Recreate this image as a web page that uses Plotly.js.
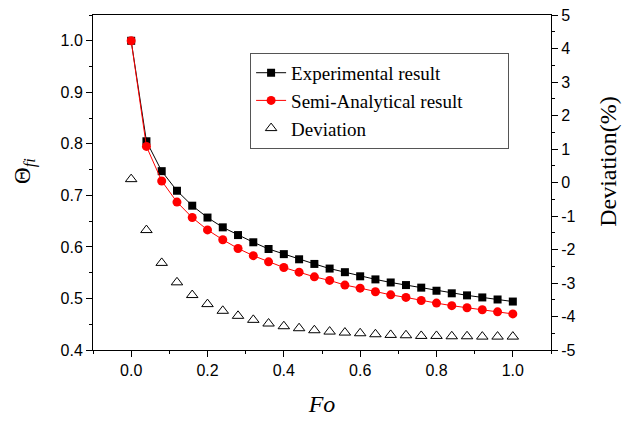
<!DOCTYPE html>
<html>
<head>
<meta charset="utf-8">
<script src="https://cdn.plot.ly/plotly-3.0.1.min.js"></script>
<style>html,body{margin:0;padding:0;background:#fff;}#chart{width:622px;height:426px;}</style>
</head>
<body>
<div id="chart"></div>
<script>
const fo = [0, 0.04, 0.08, 0.12, 0.16, 0.20, 0.24, 0.28, 0.32, 0.36, 0.40, 0.44, 0.48, 0.52, 0.56, 0.60, 0.64, 0.68, 0.72, 0.76, 0.80, 0.84, 0.88, 0.92, 0.96, 1.00];
const experimental = [1.0, 0.805, 0.747, 0.709, 0.680, 0.657, 0.638, 0.623, 0.609, 0.596, 0.586, 0.576, 0.567, 0.558, 0.551, 0.543, 0.537, 0.531, 0.526, 0.521, 0.515, 0.510, 0.506, 0.502, 0.498, 0.494];
const semiAnalytical = [1.0, 0.795, 0.728, 0.687, 0.657, 0.633, 0.614, 0.597, 0.583, 0.571, 0.560, 0.551, 0.542, 0.535, 0.526, 0.520, 0.513, 0.507, 0.502, 0.496, 0.491, 0.486, 0.482, 0.478, 0.474, 0.470];
const deviation = [0.1, -1.42, -2.40, -2.98, -3.36, -3.63, -3.83, -3.98, -4.10, -4.21, -4.29, -4.35, -4.41, -4.45, -4.48, -4.50, -4.53, -4.55, -4.56, -4.58, -4.58, -4.59, -4.59, -4.60, -4.60, -4.60];
const seriesNames = ["Experimental result", "Semi-Analytical result", "Deviation"];
const xTicks = [0, 0.2, 0.4, 0.6, 0.8, 1.0];
const xTickText = ["0.0", "0.2", "0.4", "0.6", "0.8", "1.0"];
const yTicks = [0.4, 0.5, 0.6, 0.7, 0.8, 0.9, 1.0];
const yTickText = ["0.4", "0.5", "0.6", "0.7", "0.8", "0.9", "1.0"];
const y2Ticks = [-5, -4, -3, -2, -1, 0, 1, 2, 3, 4, 5];
const y2TickText = ["-5", "-4", "-3", "-2", "-1", "0", "1", "2", "3", "4", "5"];

const traces = [
  {x: fo, y: experimental, name: seriesNames[0], type: "scatter", mode: "lines+markers",
   line: {color: "#000", width: 1}, marker: {symbol: "square", size: 8, color: "#000"}},
  {x: fo, y: semiAnalytical, name: seriesNames[1], type: "scatter", mode: "lines+markers",
   line: {color: "#ff0000", width: 1}, marker: {symbol: "circle", size: 9, color: "#ff0000"}},
  {x: fo, y: deviation, name: seriesNames[2], type: "scatter", mode: "markers", yaxis: "y2",
   marker: {symbol: "triangle-up-open", size: 10, color: "#000", line: {width: 1, color: "#000"}}}
];

const serif = "Liberation Serif, Times New Roman, serif";
const tickFont = {family: "Liberation Sans, Arial, sans-serif", size: 16, color: "#000"};
const layout = {
  width: 622, height: 426,
  margin: {l: 93, r: 71, t: 15, b: 76},
  paper_bgcolor: "#fff", plot_bgcolor: "#fff",
  showlegend: true,
  legend: {x: 0.343, y: 0.887, xanchor: "left", yanchor: "top",
           orientation: "h", entrywidth: 212, entrywidthmode: "pixels", traceorder: "normal",
           bgcolor: "#fff", bordercolor: "#555", borderwidth: 1,
           font: {family: serif, size: 19, color: "#000"}},
  xaxis: {range: [-0.1, 1.1], tickvals: xTicks, ticktext: xTickText,
          ticks: "outside", ticklen: 6, tickwidth: 1, tickcolor: "#000",
          minor: {dtick: 0.1, tick0: 0, ticks: "outside", ticklen: 3, tickcolor: "#000"},
          showline: true, linecolor: "#000", linewidth: 1, mirror: true, showgrid: false, zeroline: false,
          tickfont: tickFont,
          title: {text: "<i>Fo</i>", font: {family: serif, size: 24, color: "#000"}, standoff: 16}},
  yaxis: {range: [0.4, 1.05], tickvals: yTicks, ticktext: yTickText,
          ticks: "outside", ticklen: 6, tickwidth: 1, tickcolor: "#000",
          minor: {dtick: 0.05, tick0: 0.4, ticks: "outside", ticklen: 3, tickcolor: "#000"},
          showline: true, linecolor: "#000", linewidth: 1, showgrid: false, zeroline: false,
          tickfont: tickFont},
  yaxis2: {overlaying: "y", side: "right", range: [-5, 5], tickvals: y2Ticks, ticktext: y2TickText,
          ticks: "outside", ticklen: 6, tickwidth: 1, tickcolor: "#000",
          minor: {dtick: 0.5, ticks: "outside", ticklen: 3, tickcolor: "#000"},
          showline: true, linecolor: "#000", linewidth: 1, showgrid: false, zeroline: false,
          tickfont: tickFont},
  annotations: [
    {text: "Θ<sub><i>fi</i></sub>", xref: "paper", yref: "paper", x: -0.151, y: 0.534,
     xanchor: "center", yanchor: "middle", textangle: -90, showarrow: false,
     font: {family: serif, size: 23, color: "#000"}},
    {text: "Deviation(%)", xref: "paper", yref: "paper", x: 1.124, y: 0.564,
     xanchor: "center", yanchor: "middle", textangle: -90, showarrow: false,
     font: {family: serif, size: 24, color: "#000"}}
  ]
};

Plotly.newPlot("chart", traces, layout, {staticPlot: true, displayModeBar: false});
</script>
</body>
</html>
